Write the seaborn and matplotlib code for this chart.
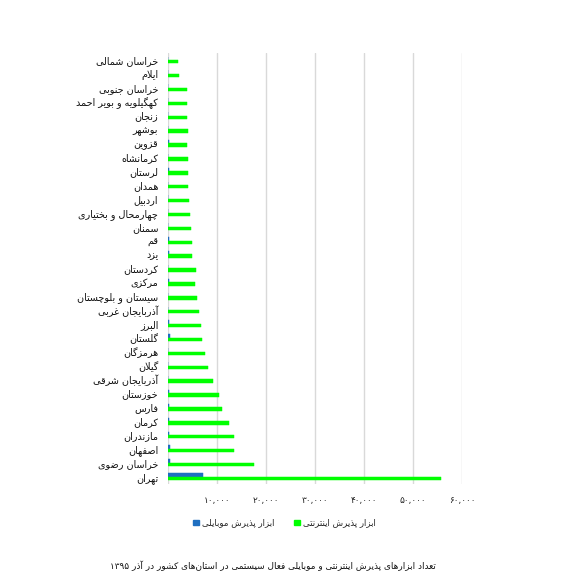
import re
import pandas as pd
import seaborn as sns
import matplotlib.pyplot as plt
from matplotlib.patches import Patch

# data, top to bottom as in the chart
provinces = [
    "خراسان شمالی", "ایلام", "خراسان جنوبی", "کهگیلویه و بویر احمد", "زنجان",
    "بوشهر", "قزوین", "کرمانشاه", "لرستان", "همدان", "اردبیل",
    "چهارمحال و بختیاری", "سمنان", "قم", "یزد", "کردستان", "مرکزی",
    "سیستان و بلوچستان", "آذربایجان غربی", "البرز", "گلستان", "هرمزگان",
    "گیلان", "آذربایجان شرقی", "خوزستان", "فارس", "کرمان", "مازندران",
    "اصفهان", "خراسان رضوی", "تهران",
]
internet = [2000, 2250, 3950, 3900, 3900, 4050, 3900, 4050, 4050, 4050, 4350,
            4500, 4700, 4850, 4950, 5650, 5450, 5850, 6400, 6800, 6950, 7500,
            8150, 9250, 10350, 11000, 12450, 13500, 13500, 17500, 55700]
mobile = [60, 60, 60, 60, 60, 60, 150, 80, 150, 80, 80,
          80, 80, 200, 200, 100, 200, 80, 100, 250, 400, 100,
          100, 100, 200, 250, 250, 250, 350, 350, 7100]
series_mobile = "ابزار پذیرش موبایلی"
series_internet = "ابزار پذیرش اینترنتی"
caption = "تعداد ابزارهای پذیرش اینترنتی و موبایلی فعال سیستمی در استان‌های کشور در آذر ۱۳۹۵"
xticks = [0, 10000, 20000, 30000, 40000, 50000, 60000]

# --- tiny arabic shaper (matplotlib has no shaping / bidi) ---
FORMS = {
    'ا': (0xFE8D, 0xFE8E), 'آ': (0xFE81, 0xFE82), 'ب': (0xFE8F, 0xFE90, 0xFE91, 0xFE92),
    'پ': (0xFB56, 0xFB57, 0xFB58, 0xFB59), 'ت': (0xFE95, 0xFE96, 0xFE97, 0xFE98),
    'ث': (0xFE99, 0xFE9A, 0xFE9B, 0xFE9C), 'ج': (0xFE9D, 0xFE9E, 0xFE9F, 0xFEA0),
    'چ': (0xFB7A, 0xFB7B, 0xFB7C, 0xFB7D), 'ح': (0xFEA1, 0xFEA2, 0xFEA3, 0xFEA4),
    'خ': (0xFEA5, 0xFEA6, 0xFEA7, 0xFEA8), 'د': (0xFEA9, 0xFEAA), 'ذ': (0xFEAB, 0xFEAC),
    'ر': (0xFEAD, 0xFEAE), 'ز': (0xFEAF, 0xFEB0), 'ژ': (0xFB8A, 0xFB8B),
    'س': (0xFEB1, 0xFEB2, 0xFEB3, 0xFEB4), 'ش': (0xFEB5, 0xFEB6, 0xFEB7, 0xFEB8),
    'ص': (0xFEB9, 0xFEBA, 0xFEBB, 0xFEBC), 'ض': (0xFEBD, 0xFEBE, 0xFEBF, 0xFEC0),
    'ط': (0xFEC1, 0xFEC2, 0xFEC3, 0xFEC4), 'ظ': (0xFEC5, 0xFEC6, 0xFEC7, 0xFEC8),
    'ع': (0xFEC9, 0xFECA, 0xFECB, 0xFECC), 'غ': (0xFECD, 0xFECE, 0xFECF, 0xFED0),
    'ف': (0xFED1, 0xFED2, 0xFED3, 0xFED4), 'ق': (0xFED5, 0xFED6, 0xFED7, 0xFED8),
    'ک': (0xFB8E, 0xFB8F, 0xFB90, 0xFB91), 'گ': (0xFB92, 0xFB93, 0xFB94, 0xFB95),
    'ل': (0xFEDD, 0xFEDE, 0xFEDF, 0xFEE0), 'م': (0xFEE1, 0xFEE2, 0xFEE3, 0xFEE4),
    'ن': (0xFEE5, 0xFEE6, 0xFEE7, 0xFEE8), 'و': (0xFEED, 0xFEEE),
    'ه': (0xFEE9, 0xFEEA, 0xFEEB, 0xFEEC), 'ی': (0xFBFC, 0xFBFD, 0xFBFE, 0xFBFF),
    'ئ': (0xFE89, 0xFE8A, 0xFE8B, 0xFE8C),
}
LAM_ALEF = {'ا': (0xFEFB, 0xFEFC), 'آ': (0xFEF5, 0xFEF6)}


def fa(s):
    out = []
    i = 0
    while i < len(s):
        c = s[i]
        if c not in FORMS:
            out.append(c)
            i += 1
            continue
        prev = s[i - 1] if i > 0 else ''
        jp = prev in FORMS and len(FORMS[prev]) == 4
        nxt = s[i + 1] if i + 1 < len(s) else ''
        if c == 'ل' and nxt in LAM_ALEF:
            out.append(chr(LAM_ALEF[nxt][1 if jp else 0]))
            i += 2
            continue
        f = FORMS[c]
        jn = len(f) == 4 and nxt in FORMS
        if jp and jn:
            g = f[3]
        elif jp:
            g = f[1]
        elif jn:
            g = f[2]
        else:
            g = f[0]
        out.append(chr(g))
        i += 1
    text = ''.join(ch for ch in out if ch != '\u200c')
    tokens = re.findall(r'[0-9۰-۹,]+|.', text)
    return ''.join(reversed(tokens))


def fa_num(v):
    return f"{v:,}".translate(str.maketrans("0123456789", "۰۱۲۳۴۵۶۷۸۹"))


df = pd.DataFrame({
    "province": provinces * 2,
    "value": mobile + internet,
    "series": [series_mobile] * len(provinces) + [series_internet] * len(provinces),
})

sns.set_theme(style="white")
plt.rcParams['font.family'] = ['DejaVu Sans']
colors = {series_mobile: "#1f6fc1", series_internet: "#00ff00"}

fig = plt.figure(figsize=(5.65, 5.85), dpi=100)
ax = fig.add_axes([0.2973, 0.1733, 0.5204, 0.736])
sns.barplot(data=df, x="value", y="province", hue="series", order=provinces,
            hue_order=[series_mobile, series_internet], palette=colors,
            width=0.5, dodge=True, saturation=1, legend=False, ax=ax)
# thin edge in the bar colour so every bar gets the same pixel thickness
for bar in ax.patches:
    bar.set_edgecolor(bar.get_facecolor())
    bar.set_linewidth(0.35)

ax.set_xlim(0, 60000)
ax.set_xticks(xticks)
ax.set_xticklabels([''] + [fa_num(v) for v in xticks[1:]], fontsize=6.5, color="#222222")
ax.set_yticks(range(len(provinces)))
ax.set_yticklabels([fa(p) for p in provinces], fontsize=6.9, color="#111111")
ax.tick_params(axis='both', length=0)
ax.tick_params(axis='x', pad=9)
ax.tick_params(axis='y', pad=7)
ax.set_xlabel("")
ax.set_ylabel("")
ax.grid(axis='x', color="#d9d9d9", linewidth=1)
ax.set_axisbelow(True)
for s in ax.spines.values():
    s.set_visible(False)

handles = [Patch(color=colors[series_mobile], label=fa(series_mobile)),
           Patch(color=colors[series_internet], label=fa(series_internet))]
fig.legend(handles=handles, loc="center", bbox_to_anchor=(0.5035, 0.106), ncol=2,
           frameon=False, fontsize=6.2, handlelength=0.65, handleheight=0.65,
           handletextpad=0.35, columnspacing=2.3)

fig.text(0.483, 0.0325, fa(caption), ha="center", va="center", fontsize=6.4, color="#111111")

fig.savefig("out.png", dpi=100)
